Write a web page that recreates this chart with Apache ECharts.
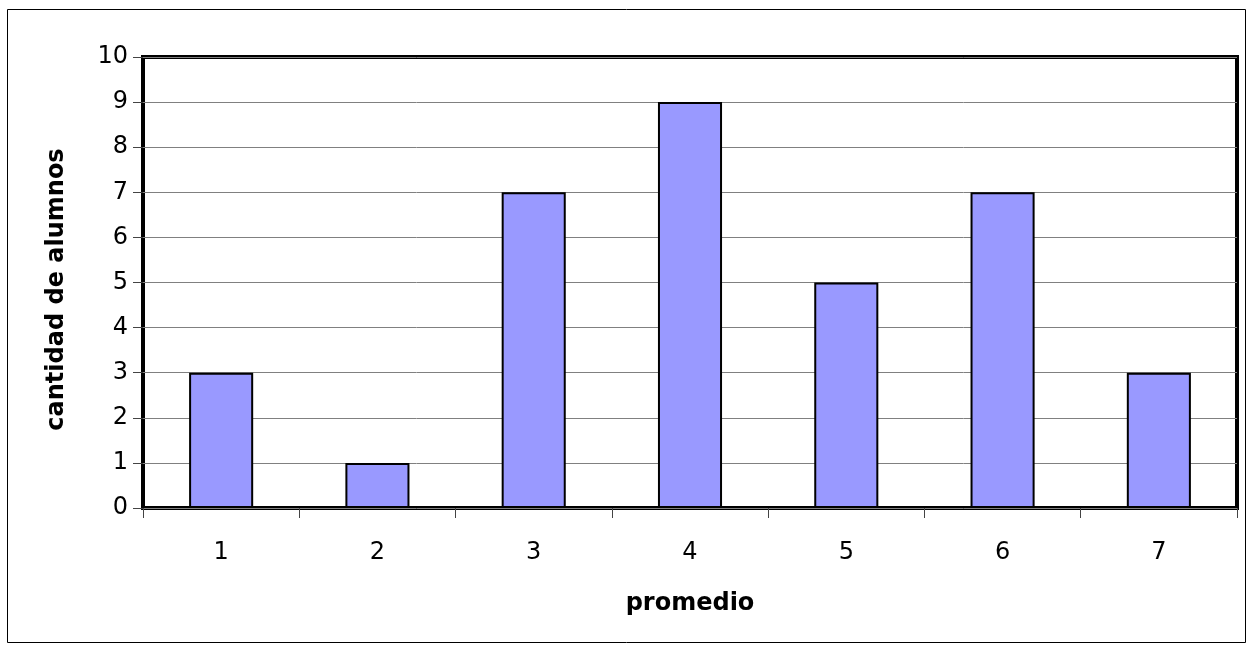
<!DOCTYPE html>
<html>
<head>
<meta charset="utf-8">
<style>
  html, body { margin: 0; padding: 0; background: #fff; }
  #chart { width: 1254px; height: 650px; }
</style>
<script src="https://cdn.jsdelivr.net/npm/echarts@6/dist/echarts.min.js"></script>
</head>
<body>
<div id="chart"></div>
<script>
// Distribución de alumnos por promedio
const categories = ['1', '2', '3', '4', '5', '6', '7'];
const alumnos = [3, 1, 7, 9, 5, 7, 3];
const yTicks = [0, 1, 2, 3, 4, 5, 6, 7, 8, 9, 10];

const chart = echarts.init(document.getElementById('chart'), null, { renderer: 'canvas' });

const font = "'DejaVu Sans', 'Liberation Sans', Arial, sans-serif";

chart.setOption({
  animation: false,
  backgroundColor: '#ffffff',
  graphic: [{
    type: 'rect',
    shape: { x: 7.5, y: 9.5, width: 1238, height: 633 },
    style: { fill: 'none', stroke: '#000', lineWidth: 1 },
    z: -1
  }],
  grid: {
    left: 143, right: 17, top: 57, bottom: 142,
    show: true, borderColor: '#000', borderWidth: 4,
    backgroundColor: 'transparent'
  },
  xAxis: {
    type: 'category',
    data: categories,
    name: 'promedio',
    nameLocation: 'middle',
    nameGap: 84,
    nameTextStyle: { fontFamily: font, fontSize: 24, fontWeight: 'bold', color: '#000' },
    axisLine: { show: false },
    axisTick: { show: true, length: 10, lineStyle: { color: '#444', width: 1 } },
    axisLabel: { fontFamily: font, fontSize: 24, color: '#000', margin: 33 },
    splitLine: { show: false }
  },
  yAxis: {
    type: 'value',
    min: yTicks[0],
    max: yTicks[yTicks.length - 1],
    interval: 1,
    name: 'cantidad de alumnos',
    nameLocation: 'middle',
    nameGap: 74,
    nameTextStyle: {
      fontFamily: font, fontSize: 24, fontWeight: 'bold', color: '#000',
      padding: [0, 14, 0, 0]
    },
    axisLine: { show: false },
    axisTick: { show: true, length: 10, lineStyle: { color: '#444', width: 1 } },
    axisLabel: { fontFamily: font, fontSize: 24, color: '#000', margin: 15 },
    splitLine: { show: true, lineStyle: { color: '#808080', width: 1 } }
  },
  series: [{
    type: 'bar',
    data: alumnos,
    barCategoryGap: '59%',
    itemStyle: { color: '#9999FF', borderColor: '#000', borderWidth: 2 }
  }]
});
</script>
</body>
</html>
